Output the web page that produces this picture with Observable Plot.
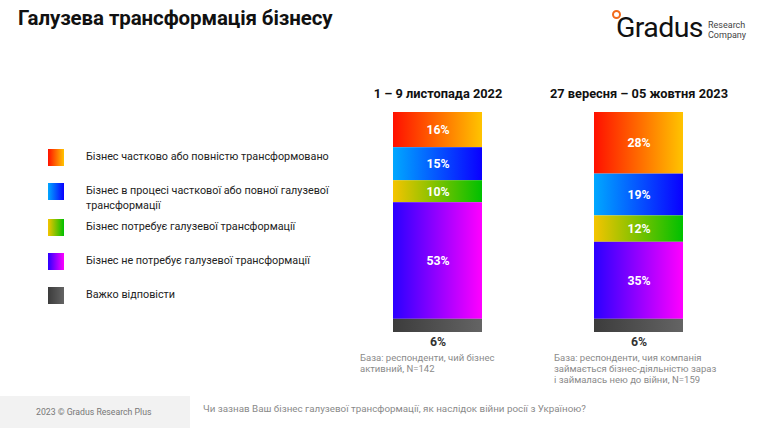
<!DOCTYPE html>
<html><head><meta charset="utf-8">
<script src="https://cdn.jsdelivr.net/npm/d3@7"></script>
<script src="https://cdn.jsdelivr.net/npm/@observablehq/plot@0.6"></script>
<style>
html,body{margin:0;padding:0;background:#fff;}
body{width:764px;height:428px;position:relative;overflow:hidden;font-family:Roboto,"Noto Sans",sans-serif;}
.abs{position:absolute;}
#title{left:18px;top:6px;font-size:20.5px;font-weight:700;color:#111;letter-spacing:-0.1px;}
#logo{left:612px;top:8px;}
#legend .item{position:absolute;left:48px;}
#legend .sw{width:16px;height:17px;}
#legend .lab{position:absolute;left:38px;top:1px;white-space:nowrap;font-size:10.8px;line-height:14.5px;color:#222;}
.note{font-size:9.5px;line-height:11px;color:#8a8a8a;white-space:nowrap;}
#footbox{left:0;top:396px;width:190px;height:32px;background:#f2f2f2;}
#foottext{left:36px;top:407px;font-size:8.7px;color:#777;}
#question{left:203px;top:403px;font-size:9.8px;color:#8a8a8a;}
</style></head>
<body>
<div id="title" class="abs">Галузева трансформація бізнесу</div>
<div id="logo" class="abs">
  <div class="abs" style="left:0;top:2px;width:5px;height:5px;border:2px solid #f26a1b;border-radius:50%;"></div>
  <div class="abs" style="left:4px;top:3px;font-size:28.5px;font-weight:400;color:#111;letter-spacing:-0.6px;line-height:34px;">Gradus</div>
  <div class="abs" style="left:96px;top:13px;font-size:9px;line-height:9.5px;color:#444;">Research<br>Company</div>
</div>
<div id="legend"></div>
<div id="chart" class="abs" style="left:338px;top:75px;"></div>
<div id="notes"></div>
<div id="footbox" class="abs"></div>
<div id="foottext" class="abs">2023 © Gradus Research Plus</div>
<div id="question" class="abs">Чи зазнав Ваш бізнес галузевої трансформації, як наслідок війни росії з Україною?</div>
<script>
// ---- data ----
const periods = ["1 – 9 листопада 2022", "27 вересня – 05 жовтня 2023"];
const categories = [
  "Бізнес частково або повністю трансформовано",
  "Бізнес в процесі часткової або повної галузевої трансформації",
  "Бізнес потребує галузевої трансформації",
  "Бізнес не потребує галузевої трансформації",
  "Важко відповісти"
];
const legendLabels = [
  "Бізнес частково або повністю трансформовано",
  "Бізнес в процесі часткової або повної галузевої<br>трансформації",
  "Бізнес потребує галузевої трансформації",
  "Бізнес не потребує галузевої трансформації",
  "Важко відповісти"
];
const values2022 = [16, 15, 10, 53, 6];
const values2023 = [28, 19, 12, 35, 6];
const baseNotes = [
  "База: респонденти, чий бізнес<br>активний, N=142",
  "База: респонденти, чия компанія<br>займається бізнес-діяльністю зараз<br>і займалась нею до війни, N=159"
];

// ---- styles ----
const gradients = [
  ["#ff1000", "#ffc400"],
  ["#00a8ff", "#0a00ff"],
  ["#f5c400", "#00c000"],
  ["#2a00ff", "#ff00ff"],
  ["#3c3c3c", "#646464"]
];
const legendTops = [149, 183, 219, 253, 287];

// legend
const legend = document.getElementById("legend");
legendLabels.forEach((c, i) => {
  const it = document.createElement("div");
  it.className = "item";
  it.style.top = legendTops[i] + "px";
  it.innerHTML = `<div class="sw" style="background:linear-gradient(to right, ${gradients[i][0]}, ${gradients[i][1]})"></div><div class="lab">${c}</div>`;
  legend.appendChild(it);
});

// table
const table = [];
[values2022, values2023].forEach((vals, p) => {
  vals.forEach((v, i) => table.push({period: periods[p], category: categories[i], idx: i, value: v, fill: `url(#grad${i})`}));
});

const W = 400, H = 290;
const chart = Plot.plot({
  width: W, height: H,
  marginLeft: 0, marginRight: 0, marginTop: 37, marginBottom: 33,
  style: {fontFamily: "Roboto, sans-serif", background: "transparent", overflow: "visible"},
  x: {domain: periods, paddingInner: 0.5594, paddingOuter: 0.27, axis: "top", tickSize: 0, tickPadding: 15, label: null},
  y: {domain: [0, 100], reverse: true, axis: null},
  color: {type: "identity"},
  marks: [
    Plot.barY(table, Plot.stackY({x: "period", y: "value", fill: "fill", order: null, inset: 0})),
    Plot.text(table.filter(d => d.idx < 4), Plot.stackY({x: "period", y: "value", order: null, text: d => d.value + "%", fill: "white", fontSize: 12.3, fontWeight: 700})),
    Plot.text(table.filter(d => d.idx === 4), {x: "period", frameAnchor: "bottom", dy: 13, text: d => d.value + "%", fill: "#333", fontSize: 12.3, fontWeight: 700})
  ]
});
// gradient defs
const svgNS = "http://www.w3.org/2000/svg";
const defs = document.createElementNS(svgNS, "defs");
gradients.forEach((g, i) => {
  const lg = document.createElementNS(svgNS, "linearGradient");
  lg.setAttribute("id", "grad" + i);
  lg.setAttribute("x1", "0"); lg.setAttribute("x2", "1"); lg.setAttribute("y1", "0"); lg.setAttribute("y2", "0");
  g.forEach((c, k) => {
    const s = document.createElementNS(svgNS, "stop");
    s.setAttribute("offset", k ? "1" : "0");
    s.setAttribute("stop-color", c);
    lg.appendChild(s);
  });
  defs.appendChild(lg);
});
chart.insertBefore(defs, chart.firstChild);
d3.select(chart).selectAll("g[aria-label='x-axis tick label']")
  .attr("font-size", 12.8).attr("font-weight", 700).attr("fill", "#111");
document.getElementById("chart").appendChild(chart);

// notes
const noteLefts = [360, 554];
const notes = document.getElementById("notes");
baseNotes.forEach((n, i) => {
  const d = document.createElement("div");
  d.className = "abs note";
  d.style.left = noteLefts[i] + "px";
  d.style.top = "352px";
  d.innerHTML = n;
  notes.appendChild(d);
});
</script>
</body></html>
